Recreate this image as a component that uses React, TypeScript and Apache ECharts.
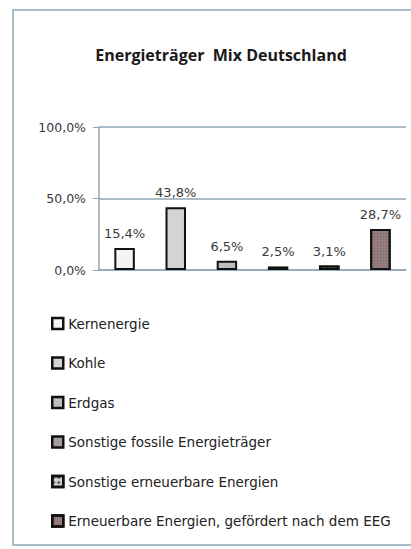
import React, { useEffect, useRef } from "react";
import * as echarts from "echarts";

const categories = [
  "Kernenergie",
  "Kohle",
  "Erdgas",
  "Sonstige fossile Energieträger",
  "Sonstige erneuerbare Energien",
  "Erneuerbare Energien, gefördert nach dem EEG",
];
const values = [15.4, 43.8, 6.5, 2.5, 3.1, 28.7];
const yTicks = [0, 50, 100];
const fills = ["#f4f4f4", "#d4d4d4", "#bdbdbd", "#a89c9c", "#cfcfcf", "#8a7474"];

const fmt = (v: number) => v.toFixed(1).replace(".", ",") + "%";

export default function App() {
  const ref = useRef<HTMLDivElement>(null);
  useEffect(() => {
    document.body.style.margin = "0";
    const chart = echarts.init(ref.current!, undefined, { renderer: "svg" });
    const series = categories.map((name, i) => {
      const decal =
        i === 5
          ? { symbol: "rect", symbolSize: 0.6, dashArrayX: [2, 1], dashArrayY: [2, 1], color: "rgba(255,190,190,0.55)" }
          : i === 4
          ? { symbol: "rect", symbolSize: 0.7, dashArrayX: [3, 2], dashArrayY: [3, 2], color: "#222222" }
          : undefined;
      return {
        name,
        type: "bar",
        stack: "all",
        barWidth: "40%",
        data: categories.map((_, j) => (j === i ? values[i] : null)),
        itemStyle: {
          color: fills[i],
          borderColor: "#111111",
          borderWidth: 2,
          ...(decal ? { decal } : {}),
        },
        label: {
          show: true,
          position: "top",
          distance: 8,
          formatter: (p: any) => fmt(p.value),
          fontFamily: "DejaVu Sans",
          fontSize: 13,
          color: "#3a3a3a",
        },
      };
    });
    chart.setOption({
      animation: false,
      title: {
        text: "Energieträger  Mix Deutschland",
        left: 216,
        textAlign: "center",
        top: 42,
        textStyle: { fontFamily: "Open Sans", fontWeight: "bold", fontSize: 16, color: "#1a1a1a" },
      },
      graphic: [
        {
          type: "rect",
          shape: { x: 13, y: 10, width: 420, height: 535 },
          style: { fill: "none", stroke: "#8fa6b5", lineWidth: 1.5 },
          silent: true,
        },
      ],
      legend: {
        orient: "vertical",
        left: 46,
        top: 311,
        itemWidth: 11,
        itemHeight: 11,
        itemGap: 24.5,
        icon: "rect",
        data: categories,
        itemStyle: { borderColor: "#111111", borderWidth: 2.5 },
        textStyle: { fontFamily: "DejaVu Sans", fontSize: 13.5, color: "#222222", lineHeight: 15 },
      },
      grid: { left: 99, top: 127, right: 5, bottom: 279 },
      xAxis: {
        type: "category",
        data: categories,
        axisLabel: { show: false },
        axisTick: { show: false },
        axisLine: { lineStyle: { color: "#8fa6b5", width: 1.5 } },
      },
      yAxis: {
        type: "value",
        min: yTicks[0],
        max: yTicks[yTicks.length - 1],
        interval: 50,
        axisLine: { show: true, lineStyle: { color: "#8fa6b5", width: 1.5 } },
        axisTick: { show: true, length: 6, lineStyle: { color: "#8fa6b5" } },
        splitLine: { lineStyle: { color: "#8fa6b5", width: 1.5 } },
        axisLabel: {
          formatter: (v: number) => fmt(v),
          fontFamily: "DejaVu Sans",
          fontSize: 12.5,
          color: "#3a3a3a",
          margin: 13,
        },
      },
      series,
    });
    return () => chart.dispose();
  }, []);
  return <div ref={ref} style={{ width: 411, height: 549 }} />;
}
